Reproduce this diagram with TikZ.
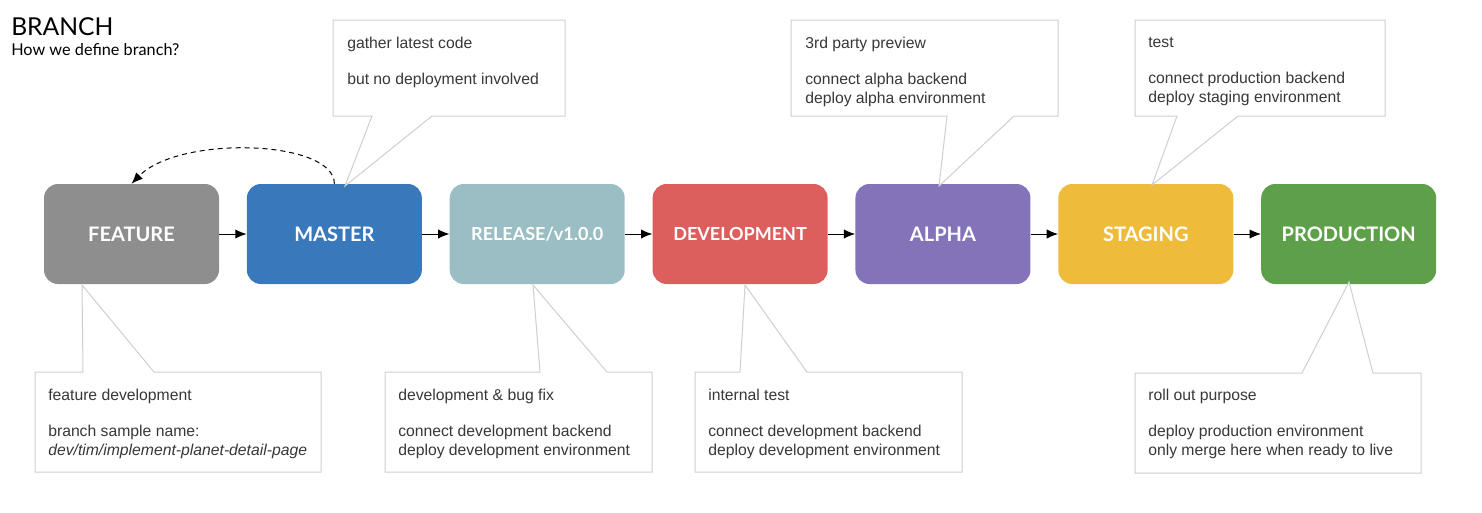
\documentclass[tikz,border=0pt]{standalone}
\usepackage{fontspec}
\setmainfont{Liberation Sans}
\newfontfamily\labelfont{Lato}
\usetikzlibrary{arrows.meta, positioning}
\definecolor{featuregray}{HTML}{8E8E8E}
\definecolor{masterblue}{HTML}{3A78BC}
\definecolor{releaseteal}{HTML}{9ABEC4}
\definecolor{devred}{HTML}{DC5F5E}
\definecolor{alphapurple}{HTML}{8473B9}
\definecolor{staginggold}{HTML}{EEBB3B}
\definecolor{prodgreen}{HTML}{5EA04A}
\definecolor{notegray}{HTML}{CFCFCF}
\definecolor{notetext}{HTML}{383838}

\begin{document}
\begin{tikzpicture}[
    x=0.75pt, y=-0.75pt,
    node distance=20.5pt,
    branchbox/.style={rounded corners=10.5pt, minimum width=131.25pt, minimum height=75pt, inner sep=0pt, text=white, font=\labelfont\bfseries\fontsize{15}{18}\selectfont},
    smalllabel/.style={font=\labelfont\bfseries\fontsize{13.5}{16}\selectfont},
    arr/.style={-{Latex[length=8.5pt, width=7pt]}, line width=0.75pt},
    note/.style={draw=notegray, line width=0.75pt, fill=white},
    notetext/.style={anchor=north west, inner sep=0pt, align=left, text=notetext, font=\fontsize{11.8}{14.25}\selectfont},
]
\useasboundingbox (0,0) rectangle (1482,512);

% Title
\node[anchor=base west, inner sep=0pt, font=\labelfont\fontsize{18.5}{22}\selectfont] (title) at (11,35) {BRANCH};
\node[anchor=base west, inner sep=0pt, font=\labelfont\fontsize{12.2}{14}\selectfont] (subtitle) at (11,55) {How we define branch?};

% Branches
\node[branchbox, fill=featuregray] (feature) at (131.5,234) {FEATURE};
\node[branchbox, fill=masterblue, right=of feature] (master) {MASTER};
\node[branchbox, smalllabel, fill=releaseteal, right=of master] (release) {RELEASE/v1.0.0};
\node[branchbox, smalllabel, fill=devred, right=of release] (dev) {DEVELOPMENT};
\node[branchbox, fill=alphapurple, right=of dev] (alpha) {ALPHA};
\node[branchbox, fill=staginggold, right=of alpha] (staging) {STAGING};
\node[branchbox, fill=prodgreen, right=of staging] (production) {PRODUCTION};

\foreach \a/\b in {feature/master, master/release, release/dev, dev/alpha, alpha/staging, staging/production} {
    \draw[arr] (\a) -- (\b);
}
\draw[arr, dash pattern=on 3.75pt off 3pt] (master.north) .. controls +(0,-44) and +(48,-49) .. (feature.north);

% Notes above
\draw[note] (333,20) -- (565,20) -- (565,116) -- (432,116) -- (345,186) -- (372,116) -- (333,116) -- cycle;
\node[notetext] (masternote) at (347,37) {gather latest code\\[12.75pt]but no deployment involved};
\draw[note] (791,20) -- (1058,20) -- (1058,116) -- (1014,116) -- (939,186) -- (947,116) -- (791,116) -- cycle;
\node[notetext] (alphanote) at (805,37) {3rd party preview\\[12.75pt]connect alpha backend\\deploy alpha environment};
\draw[note] (1135,20) -- (1385,20) -- (1385,116) -- (1238,116) -- (1152,185) -- (1177,116) -- (1135,116) -- cycle;
\node[notetext] (stagingnote) at (1148,37.5) {test\\[12.75pt]connect production backend\\deploy staging environment};

% Notes below
\draw[note] (35,372) -- (83,372) -- (82,285) -- (154,372) -- (321,372) -- (321,472) -- (35,472) -- cycle;
\node[notetext] (featurenote) at (48,389) {feature development\\[12.75pt]branch sample name:\\\textit{dev/tim/implement-planet-detail-page}};
\draw[note] (385,372) -- (540,372) -- (533,285) -- (607,372) -- (652,372) -- (652,472) -- (385,472) -- cycle;
\node[notetext] (releasenote) at (398,389) {development \& bug fix\\[12.75pt]connect development backend\\deploy development environment};
\draw[note] (695,372) -- (740,372) -- (745,285) -- (807,372) -- (962,372) -- (962,472) -- (695,472) -- cycle;
\node[notetext] (devnote) at (708,389) {internal test\\[12.75pt]connect development backend\\deploy development environment};
\draw[note] (1135,373) -- (1302,373) -- (1349,282) -- (1373,373) -- (1421,373) -- (1421,473) -- (1135,473) -- cycle;
\node[notetext] (productionnote) at (1148,389) {roll out purpose\\[12.75pt]deploy production environment\\only merge here when ready to live};

\end{tikzpicture}
\end{document}
